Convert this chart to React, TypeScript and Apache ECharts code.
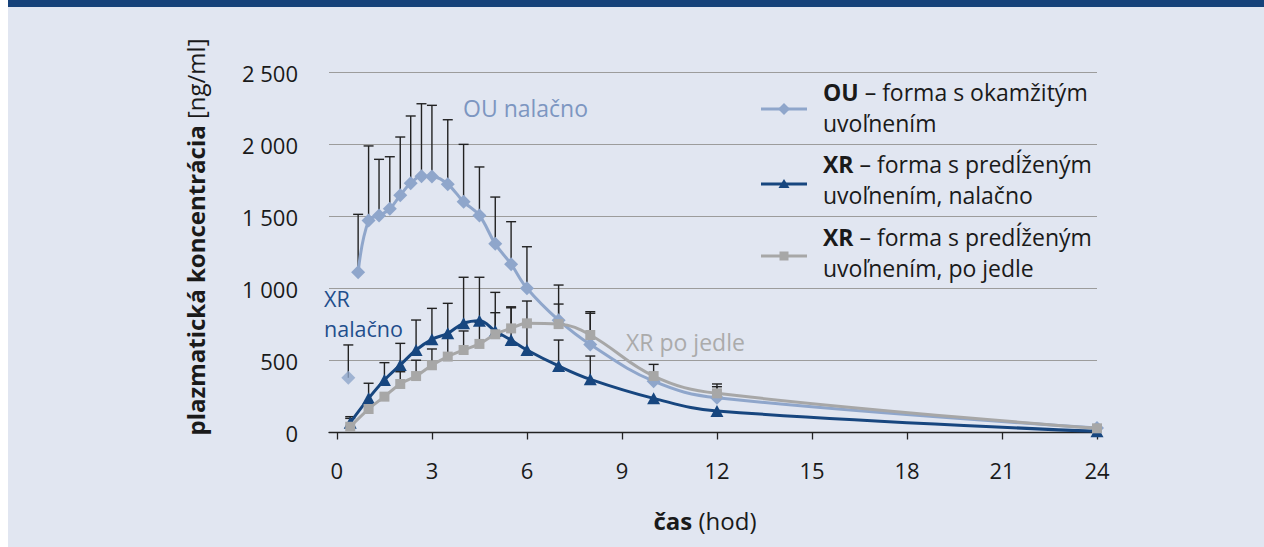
import React, { useEffect, useRef } from "react";
import * as echarts from "echarts";

// ---- data (hours, ng/ml) ----
const OU_EARLY_TIME = [0.36];
const OU_EARLY_VALUE = [380];
const OU_EARLY_SD_TOP = [608];

const OU_TIMES = [0.67, 1, 1.33, 1.67, 2, 2.33, 2.67, 3, 3.5, 4, 4.5, 5, 5.5, 6, 7, 8, 10, 12, 24];
const OU_VALUES = [1113, 1472, 1507, 1553, 1648, 1731, 1780, 1778, 1724, 1602, 1507, 1310, 1169, 1002, 780, 611, 356, 241, 32];
const OU_SD_TOP = [1515, 1990, 1897, 1915, 2052, 2198, 2283, 2272, 2172, 2001, 1844, 1635, 1464, 1290, 1024, 839, null, 318, null];

const XR_TIMES = [0.42, 1, 1.5, 2, 2.5, 3, 3.5, 4, 4.5, 5, 5.5, 6, 7, 8, 10, 12, 24];
const XR_FAST_VALUES = [68, 237, 365, 469, 573, 647, 689, 758, 776, 705, 642, 573, 462, 369, 237, 149, 8];
const XR_FAST_SD_TOP = [110, 342, 485, 619, 781, 862, 897, 1078, 1078, 973, 873, 913, 642, 531, null, null, null];

const XR_FED_VALUES = [40, 163, 249, 337, 392, 467, 527, 573, 615, 682, 723, 758, 753, 677, 392, 272, 29];
const XR_FED_SD_TOP = [98, null, null, 422, 502, 580, 658, 705, 765, 832, 866, null, 892, 828, 473, 337, null];

const X_TICKS = [0, 3, 6, 9, 12, 15, 18, 21, 24];
const Y_TICKS = [0, 500, 1000, 1500, 2000, 2500];
const Y_TICK_LABELS = ["0", "500", "1 000", "1 500", "2 000", "2 500"];

const LEGEND_TEXTS = [
  "{b|OU} – forma s okamžitým\nuvoľnením",
  "{b|XR} – forma s predĺženým\nuvoľnením, nalačno",
  "{b|XR} – forma s predĺženým\nuvoľnením, po jedle",
];

// ---- styles ----
const FONT = '"Open Sans", "Noto Sans", sans-serif';
const C_OU = "#8FA6CB";
const C_XR = "#17467F";
const C_FED = "#A7A7A7";
const C_TEXT = "#1a1a1a";
const BAND = "#16427A";
const BG = "#E1E6F1";

function pairs(t: number[], v: number[]) {
  return t.map((x, i) => [x, v[i]]);
}
function errData(t: number[], v: number[], top: (number | null)[]) {
  const out: number[][] = [];
  t.forEach((x, i) => {
    if (top[i] != null) out.push([x, top[i] as number, v[i]]);
  });
  return out;
}

function errSeries(data: number[][]) {
  return {
    type: "custom",
    z: 1,
    silent: true,
    data,
    encode: { x: 0, y: 1 },
    renderItem: (_p: any, api: any) => {
      const x = api.value(0);
      const top = api.value(1);
      const v = api.value(2);
      const a = api.coord([x, v]);
      const b = api.coord([x, top]);
      const st = { stroke: "#222", lineWidth: 1.4 };
      return {
        type: "group",
        children: [
          { type: "line", shape: { x1: a[0], y1: a[1], x2: a[0], y2: b[1] }, style: st },
          { type: "line", shape: { x1: a[0] - 5, y1: b[1], x2: a[0] + 5, y2: b[1] }, style: st },
        ],
      };
    },
  };
}

export default function App() {
  const ref = useRef<HTMLDivElement>(null);

  useEffect(() => {
    if (!ref.current) return;
    const chart = echarts.init(ref.current, null, { renderer: "svg" });

    const legendY = [109, 184, 256];
    const legendTextY = [107.5, 179.5, 252.5];
    const legendColors = [C_OU, C_XR, C_FED];
    const legendGraphics: any[] = [];
    legendY.forEach((y, i) => {
      legendGraphics.push({
        type: "line",
        shape: { x1: 761, y1: y, x2: 807, y2: y },
        style: { stroke: legendColors[i], lineWidth: 3 },
      });
      if (i === 0) {
        legendGraphics.push({
          type: "polygon",
          shape: { points: [[784, y - 6], [790, y], [784, y + 6], [778, y]] },
          style: { fill: C_OU },
        });
      } else if (i === 1) {
        legendGraphics.push({
          type: "polygon",
          shape: { points: [[784, y - 5], [789.5, y + 4], [778.5, y + 4]] },
          style: { fill: C_XR },
        });
      } else {
        legendGraphics.push({
          type: "rect",
          shape: { x: 779.5, y: y - 4.5, width: 9, height: 9 },
          style: { fill: C_FED },
        });
      }
      legendGraphics.push({
        type: "text",
        x: 823,
        y: legendTextY[i],
        style: {
          text: LEGEND_TEXTS[i],
          fill: C_TEXT,
          fontFamily: FONT,
          fontSize: 23,
          lineHeight: 31.6,
          verticalAlign: "middle",
          align: "left",
          rich: {
            b: { fontWeight: "bold", fontFamily: FONT, fontSize: 23, lineHeight: 31.6, fill: C_TEXT },
          },
        },
      });
    });

    const option: any = {
      animation: false,
      backgroundColor: "transparent",
      grid: { left: 329, right: 167, top: 72.5, bottom: 114.5, containLabel: false },
      xAxis: {
        type: "value",
        min: -0.25,
        max: 24,
        axisLine: { show: true, lineStyle: { color: "#222", width: 1.3 } },
        axisTick: {
          show: true,
          customValues: X_TICKS,
          length: 7,
          lineStyle: { color: "#222", width: 1.3 },
        },
        axisLabel: {
          customValues: X_TICKS,
          fontFamily: FONT,
          fontSize: 22,
          color: C_TEXT,
          margin: 26,
        },
        splitLine: { show: false },
      },
      yAxis: {
        type: "value",
        min: 0,
        max: 2500,
        interval: 500,
        axisLine: { show: false },
        axisTick: { show: false },
        axisLabel: {
          fontFamily: FONT,
          fontSize: 22,
          color: C_TEXT,
          margin: 31,
          formatter: (v: number) => Y_TICK_LABELS[Y_TICKS.indexOf(v)] ?? String(v),
        },
        splitLine: { show: true, lineStyle: { color: "#9c9c9c", width: 1.2 } },
      },
      graphic: [
        {
          type: "text",
          x: 195,
          y: 237,
          rotation: Math.PI / 2,
          style: {
            text: "{b|plazmatická koncentrácia} [ng/ml]",
            fill: C_TEXT,
            fontFamily: FONT,
            fontSize: 24,
            align: "center",
            verticalAlign: "middle",
            rich: { b: { fontWeight: "bold", fontFamily: FONT, fontSize: 24, fill: C_TEXT } },
          },
        },
        {
          type: "text",
          x: 705,
          y: 520,
          style: {
            text: "{b|čas} (hod)",
            fill: C_TEXT,
            fontFamily: FONT,
            fontSize: 24,
            align: "center",
            verticalAlign: "middle",
            rich: { b: { fontWeight: "bold", fontFamily: FONT, fontSize: 24, fill: C_TEXT } },
          },
        },
        {
          type: "text",
          x: 463,
          y: 107.7,
          style: { text: "OU nalačno", fill: "#7D96C1", fontFamily: FONT, fontSize: 23, verticalAlign: "middle", align: "left" },
        },
        {
          type: "text",
          x: 324,
          y: 298,
          style: { text: "XR", fill: "#1F4E8C", fontFamily: FONT, fontSize: 21.5, lineHeight: 22, verticalAlign: "middle", align: "left" },
        },
        {
          type: "text",
          x: 324,
          y: 328,
          style: { text: "nalačno", fill: "#1F4E8C", fontFamily: FONT, fontSize: 21.5, lineHeight: 22, verticalAlign: "middle", align: "left" },
        },
        {
          type: "text",
          x: 626,
          y: 341.7,
          style: { text: "XR po jedle", fill: "#ABABAB", fontFamily: FONT, fontSize: 23, verticalAlign: "middle", align: "left" },
        },
        ...legendGraphics,
      ],
      series: [
        errSeries(errData(OU_EARLY_TIME, OU_EARLY_VALUE, OU_EARLY_SD_TOP)),
        errSeries(errData(OU_TIMES, OU_VALUES, OU_SD_TOP)),
        errSeries(errData(XR_TIMES, XR_FAST_VALUES, XR_FAST_SD_TOP)),
        errSeries(errData(XR_TIMES, XR_FED_VALUES, XR_FED_SD_TOP)),
        {
          name: "OU early",
          type: "scatter",
          z: 3,
          data: pairs(OU_EARLY_TIME, OU_EARLY_VALUE),
          symbol: "diamond",
          symbolSize: 14,
          itemStyle: { color: C_OU },
        },
        {
          name: "OU",
          type: "line",
          z: 3,
          data: pairs(OU_TIMES, OU_VALUES),
          smooth: 0.4,
          symbol: "diamond",
          symbolSize: 14,
          showAllSymbol: true,
          lineStyle: { color: C_OU, width: 3 },
          itemStyle: { color: C_OU },
        },
        {
          name: "XR nalačno",
          type: "line",
          z: 4,
          data: pairs(XR_TIMES, XR_FAST_VALUES),
          smooth: 0.4,
          symbol: "triangle",
          symbolSize: [13, 12],
          showAllSymbol: true,
          lineStyle: { color: C_XR, width: 3 },
          itemStyle: { color: C_XR },
        },
        {
          name: "XR po jedle",
          type: "line",
          z: 5,
          data: pairs(XR_TIMES, XR_FED_VALUES),
          smooth: 0.4,
          symbol: "rect",
          symbolSize: 10,
          showAllSymbol: true,
          lineStyle: { color: C_FED, width: 3 },
          itemStyle: { color: C_FED },
        },
      ],
    };

    chart.setOption(option);
    return () => chart.dispose();
  }, []);

  return (
    <div style={{ position: "fixed", left: 0, top: 0, width: 1264, height: 547, background: "#fff" }}>
      <div style={{ position: "absolute", left: 8, top: 0, width: 1256, height: 7, background: BAND }} />
      <div style={{ position: "absolute", left: 8, top: 7, width: 1256, height: 540, background: BG }} />
      <div ref={ref} style={{ position: "absolute", left: 0, top: 0, width: 1264, height: 547 }} />
    </div>
  );
}
